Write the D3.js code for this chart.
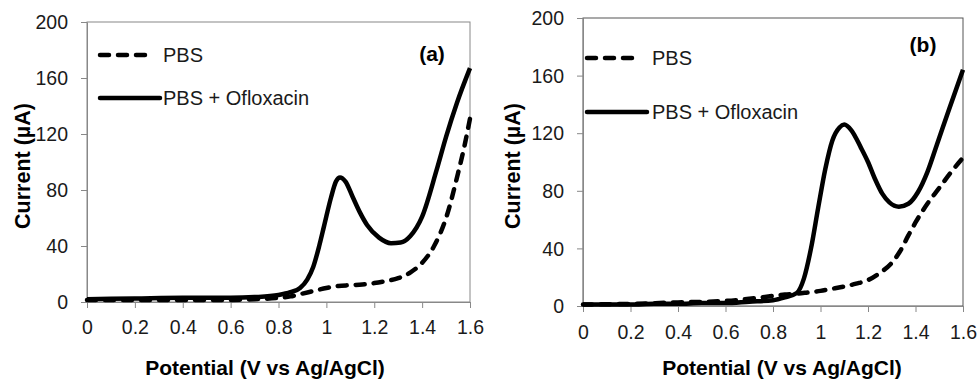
<!DOCTYPE html>
<html>
<head>
<meta charset="utf-8">
<script src="https://cdn.jsdelivr.net/npm/d3@7"></script>
<style>
  body { margin: 0; background: #fff; }
  svg { font-family: "Liberation Sans", Arial, sans-serif; }
  .tick text { font-size: 19.5px; fill: #1a1a1a; }
  .tick line { stroke: #888; }
  .domain { stroke: #888; }
</style>
</head>
<body>
<script>
// potential (V) and current (uA)
const potA = [0, 0.2, 0.4, 0.6, 0.7, 0.8, 0.85, 0.89, 0.92, 0.945, 0.97, 0.99, 1.02, 1.04, 1.057, 1.08, 1.11, 1.14, 1.17, 1.22, 1.27, 1.31, 1.35, 1.4, 1.46, 1.5, 1.545, 1.6];
const oflA = [2, 2.5, 3, 3, 3.5, 5, 7, 10, 16, 25, 40, 54, 75, 86, 89, 86, 75, 64, 55, 46, 42, 42.5, 47, 61, 94, 118, 142, 167];
const potA_pbs = [0, 0.2, 0.4, 0.6, 0.7, 0.8, 0.85, 0.9, 0.95, 1.0, 1.05, 1.1, 1.15, 1.2, 1.25, 1.3, 1.35, 1.4, 1.45, 1.5, 1.55, 1.575, 1.6];
const pbsA = [1.5, 1.5, 1.5, 1.5, 2, 3, 4, 6, 8, 10, 11.5, 12, 12.5, 13.5, 15, 17, 21, 28, 40, 60, 92, 110, 131];

const potB = [0, 0.1, 0.2, 0.3, 0.4, 0.5, 0.6, 0.7, 0.8, 0.85, 0.9, 0.93, 0.96, 0.99, 1.02, 1.05, 1.08, 1.1, 1.13, 1.17, 1.2, 1.23, 1.26, 1.29, 1.33, 1.37, 1.41, 1.45, 1.49, 1.54, 1.6];
const oflB = [1, 1, 1, 1.5, 1.5, 2, 2, 3, 4, 6, 9, 19, 40, 68, 95, 115, 124, 126, 122, 110, 100, 88, 78, 72, 69, 71, 79, 93, 112, 136, 164];
const potB_pbs = [0, 0.2, 0.4, 0.6, 0.7, 0.8, 0.85, 0.9, 0.95, 1.0, 1.05, 1.1, 1.15, 1.2, 1.25, 1.3, 1.335, 1.37, 1.4, 1.45, 1.5, 1.55, 1.6];
const pbsB = [1, 1.5, 2.5, 3.5, 5, 7, 8, 8.5, 9.5, 10.5, 12, 13.5, 15.5, 18, 23, 30, 38, 49, 58, 71, 82, 93, 103];

const xTicks = [0, 0.2, 0.4, 0.6, 0.8, 1, 1.2, 1.4, 1.6];
const yTicks = [0, 40, 80, 120, 160, 200];
const seriesNames = ['PBS', 'PBS + Ofloxacin'];
const panelLabels = ['(a)', '(b)'];

const svg = d3.select('body')
    .append('svg')
    .attr('width', 979)
    .attr('height', 381);

// box, legend and title placement per panel
const panels = [
    { left: 87, right: 470, top: 22, bottom: 302, yTitleX: 22, xTitleX: 265, xTitleY: 375, xPad: 12,
      legX: 100, legDashEnd: 154, legSolidEnd: 160, legY1: 55, legY2: 98, legTextX: 163,
      tagX: 432, tagY: 61, frame: '#888',
      pbs: [potA_pbs, pbsA], ofl: [potA, oflA] },
    { left: 583, right: 963, top: 18, bottom: 306, yTitleX: 512, xTitleX: 782, xTitleY: 375, xPad: 13,
      legX: 587, legDashEnd: 640, legSolidEnd: 647, legY1: 58, legY2: 112, legTextX: 652,
      tagX: 923, tagY: 52, frame: '#555',
      pbs: [potB_pbs, pbsB], ofl: [potB, oflB] }
];

panels.forEach((p, i) => drawPanel(p, i));

function drawPanel(p, i) {
    const x = d3.scaleLinear().domain([0, 1.6]).range([p.left, p.right]);
    const y = d3.scaleLinear().domain([0, 200]).range([p.bottom, p.top]);

    const g = svg.append('g');

    // frame
    g.append('rect')
        .attr('x', p.left)
        .attr('y', p.top)
        .attr('width', p.right - p.left)
        .attr('height', p.bottom - p.top)
        .attr('fill', 'none')
        .attr('stroke', p.frame);

    g.append('g')
        .attr('transform', `translate(0,${p.bottom})`)
        .call(d3.axisBottom(x).tickValues(xTicks).tickFormat(d3.format('')).tickSizeInner(6).tickSizeOuter(0).tickPadding(p.xPad));

    g.append('g')
        .attr('transform', `translate(${p.left},0)`)
        .call(d3.axisLeft(y).tickValues(yTicks).tickSizeInner(6).tickSizeOuter(0).tickPadding(13))
        .selectAll('.tick text')
        .attr('dy', '0.34em');

    const line = d3.line()
        .x(d => x(d[0]))
        .y(d => y(d[1]))
        .curve(d3.curveMonotoneX);

    const pbsPts = d3.zip(p.pbs[0], p.pbs[1]);
    const oflPts = d3.zip(p.ofl[0], p.ofl[1]);

    g.append('path')
        .datum(pbsPts)
        .attr('d', line)
        .attr('fill', 'none')
        .attr('stroke', '#000')
        .attr('stroke-width', 4.5)
        .attr('stroke-linecap', 'round')
        .attr('stroke-dasharray', '9,9');

    g.append('path')
        .datum(oflPts)
        .attr('d', line)
        .attr('fill', 'none')
        .attr('stroke', '#000')
        .attr('stroke-width', 4.5)
        .attr('stroke-linejoin', 'round');

    // legend
    g.append('line')
        .attr('x1', p.legX).attr('x2', p.legDashEnd)
        .attr('y1', p.legY1).attr('y2', p.legY1)
        .attr('stroke', '#000').attr('stroke-width', 4.5)
        .attr('stroke-linecap', 'round')
        .attr('stroke-dasharray', '9,9');
    g.append('line')
        .attr('x1', p.legX).attr('x2', p.legSolidEnd)
        .attr('y1', p.legY2).attr('y2', p.legY2)
        .attr('stroke', '#000').attr('stroke-width', 4.5)
        .attr('stroke-linecap', 'round');

    g.selectAll('text.leg')
        .data(seriesNames)
        .enter()
        .append('text')
        .attr('class', 'leg')
        .attr('x', p.legTextX)
        .attr('y', (d, k) => k ? p.legY2 : p.legY1)
        .attr('dy', '0.35em')
        .attr('font-size', 20)
        .attr('fill', '#1a1a1a')
        .text(d => d);

    g.append('text')
        .attr('x', p.tagX)
        .attr('y', p.tagY)
        .attr('text-anchor', 'middle')
        .attr('font-size', 21)
        .attr('font-weight', 'bold')
        .text(panelLabels[i]);

    // axis titles
    g.append('text')
        .attr('transform', `translate(${p.yTitleX},${(p.top + p.bottom) / 2 + 4}) rotate(-90)`)
        .attr('text-anchor', 'middle')
        .attr('dy', '0.35em')
        .attr('font-size', 21.5)
        .attr('font-weight', 'bold')
        .text('Current (µA)');

    g.append('text')
        .attr('x', p.xTitleX)
        .attr('y', p.xTitleY)
        .attr('text-anchor', 'middle')
        .attr('font-size', 21)
        .attr('font-weight', 'bold')
        .text('Potential (V vs Ag/AgCl)');
}
</script>
</body>
</html>
